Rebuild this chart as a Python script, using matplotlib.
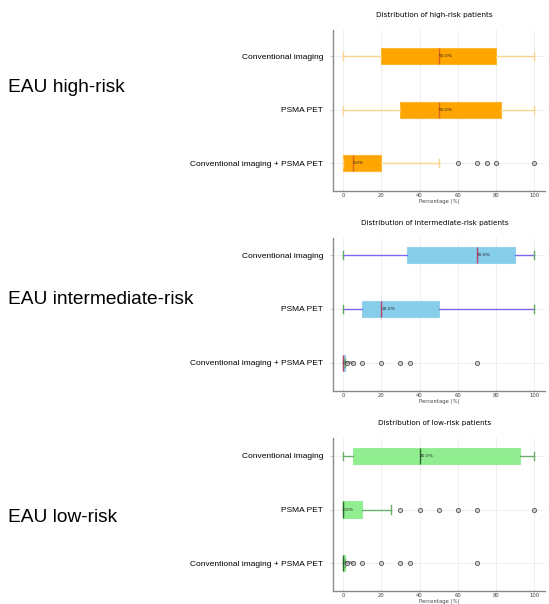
import matplotlib
matplotlib.use("Agg")
import matplotlib.pyplot as plt

# Imaging modalities (one row per modality, top to bottom)
categories = ["Conventional imaging", "PSMA PET", "Conventional imaging + PSMA PET"]

# High-risk patients: box-plot summary statistics (%)
high_whislo = [0, 0, 0]
high_q1 = [20, 30, 0]
high_med = [50, 50, 5]
high_q3 = [80, 82.5, 20]
high_whishi = [100, 100, 50]
high_fliers = [[], [], [60, 70, 75, 80, 100]]

# Intermediate-risk patients
inter_whislo = [0, 0, 0]
inter_q1 = [33.5, 10, 0]
inter_med = [70, 20, 0]
inter_q3 = [90, 50, 1]
inter_whishi = [100, 100, 1]
inter_fliers = [[], [], [2, 5, 10, 20, 30, 35, 70]]

# Low-risk patients
low_whislo = [0, 0, 0]
low_q1 = [5, 0, 0]
low_med = [40, 0, 0]
low_q3 = [92.5, 10, 1]
low_whishi = [100, 25, 1]
low_fliers = [[], [30, 40, 50, 60, 70, 100], [2, 5, 10, 20, 30, 35, 70]]

group_labels = ["EAU high-risk", "EAU intermediate-risk", "EAU low-risk"]
titles = ["Distribution of high-risk patients",
          "Distribution of intermediate-risk patients",
          "Distribution of low-risk patients"]
x_ticks = [0, 20, 40, 60, 80, 100]
x_label = "Percentage (%)"

groups = [
    (high_whislo, high_q1, high_med, high_q3, high_whishi, high_fliers),
    (inter_whislo, inter_q1, inter_med, inter_q3, inter_whishi, inter_fliers),
    (low_whislo, low_q1, low_med, low_q3, low_whishi, low_fliers),
]

styles = [
    dict(face="#FFA500", edge="#FFB733", whisker="#F8D48C", cap="#F8D48C", median="#E0661E"),
    dict(face="#87CEEB", edge="#95D3EC", whisker="#7B68EE", cap="#5DA85D", median="#B8406A"),
    dict(face="#90EE90", edge="#98EE98", whisker="#6AAE6A", cap="#6AAE6A", median="#2E6B2E"),
]

W, H = 549, 604
fig = plt.figure(figsize=(W / 100, H / 100), dpi=100)

# axes pixel boxes: (top, bottom) and y-limits (bottom value, top value)
ax_px = [(30, 191), (238, 391), (438, 591)]
ylims = [(3.52, 0.514), (3.52, 0.685), (3.515, 0.67)]
label_y = [88, 300, 517]
left_px, right_px = 333, 545

for i in range(3):
    top, bot = ax_px[i]
    ax = fig.add_axes([left_px / W, 1 - bot / H, (right_px - left_px) / W, (bot - top) / H])
    wl, q1, med, q3, wh, fl = groups[i]
    st = styles[i]
    stats = []
    for j in range(3):
        stats.append(dict(whislo=wl[j], q1=q1[j], med=med[j], q3=q3[j],
                          whishi=wh[j], fliers=fl[j], label=categories[j]))
    pos = [1, 2, 3]
    ax.bxp(stats, positions=pos, widths=0.3, vert=False, patch_artist=True,
           boxprops=dict(facecolor=st["face"], edgecolor=st["edge"], linewidth=0.8),
           whiskerprops=dict(color=st["whisker"], linewidth=1.0),
           capprops=dict(color=st["cap"], linewidth=1.0),
           medianprops=dict(color=st["median"], linewidth=1.0),
           flierprops=dict(marker="o", markersize=3, markerfacecolor="#d4d4d4",
                           markeredgecolor="#666666", markeredgewidth=0.7))
    for j in range(3):
        ax.text(med[j], pos[j], f"{med[j]:.1f}%", fontsize=3.2, ha="left",
                va="center", color="#222222", family="DejaVu Sans")
    ax.set_xlim(-5.2, 105.5)
    ax.set_ylim(*ylims[i])
    ax.set_xticks(x_ticks)
    ax.set_yticks(pos)
    ax.set_yticklabels(categories, fontsize=6.0, family="Liberation Sans")
    ax.tick_params(axis="x", labelsize=3.8, length=0, pad=1.5, colors="#444444")
    ax.tick_params(axis="y", length=2, pad=5, color="#cccccc", labelcolor="black")
    ax.grid(True, color="#ececec", linewidth=0.6)
    ax.set_axisbelow(True)
    for s in ["top", "right"]:
        ax.spines[s].set_visible(False)
    for s in ["left", "bottom"]:
        ax.spines[s].set_color("#8a8a8a")
        ax.spines[s].set_linewidth(1.0)
    ax.set_xlabel(x_label, fontsize=3.8, labelpad=1, color="#444444")
    ax.set_title(titles[i], fontsize=5.2, pad=9, x=0.48)
    fig.text(8 / W, 1 - label_y[i] / H, group_labels[i], fontsize=13.8,
             family="Liberation Sans", ha="left", va="center")

fig.savefig("out.png", dpi=100, facecolor="white")
